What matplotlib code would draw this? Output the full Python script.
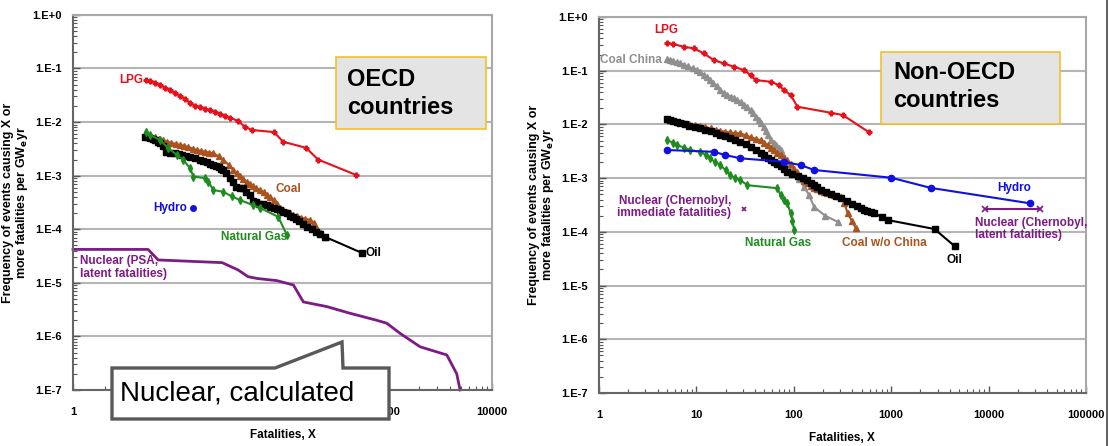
import matplotlib

matplotlib.use("Agg")
import matplotlib.pyplot as plt
from matplotlib.lines import Line2D
from matplotlib.patches import Polygon, Rectangle
from matplotlib.ticker import FixedLocator, LogLocator, NullFormatter

NARROW = ["Liberation Sans Narrow", "Liberation Sans", "DejaVu Sans"]
WIDE = ["Liberation Sans", "DejaVu Sans"]

# ---- OECD panel (fatalities X, frequency per GWe-yr) ----
oecd_lpg_x = [5, 5.4, 6.1, 6.8, 7.6, 8.4, 9.4, 10.5, 11.7, 13.1, 14.6, 16.3, 18.2, 20.3,
              22.7, 25.3, 28.3, 31.5, 37.6, 43.8, 51.2, 83, 101, 168, 218, 503]
oecd_lpg_y = [0.061, 0.0586, 0.0538, 0.0493, 0.0434, 0.0398, 0.035, 0.0308, 0.027, 0.0228,
              0.02, 0.0192, 0.0176, 0.0169, 0.0155, 0.0142, 0.013, 0.012, 0.0105, 0.0081,
              0.0071, 0.0065, 0.0043, 0.0033, 0.002, 0.00103]
oecd_gas_x = [5, 5.4, 6.8, 8.1, 9.8, 11.3, 13.1, 14.1, 18.2, 19.6, 21.8, 27.2, 32.7, 39.3,
              52.6, 61, 91, 110]
oecd_gas_y = [0.0066, 0.0058, 0.0046, 0.00325, 0.00244, 0.00197, 0.00137, 0.00096, 0.0009,
              0.00077, 0.00054, 0.0005, 0.00041, 0.00035, 0.00028, 0.00025, 0.00017, 7.8e-5]
oecd_oil_x = [4.9, 5.2, 5.4, 5.8, 6.1, 6.5, 6.8, 7.3, 7.8, 8.5, 9.4, 10.2, 11, 12, 13.1,
              14.6, 16.3, 17.5, 19, 20.5, 21.8, 23, 24.5, 26, 27.2, 29, 31.5, 33.5, 36, 39,
              42, 45, 49, 52, 56, 60, 65, 71, 76, 82, 88, 95, 102, 110, 118, 126, 135, 145,
              157, 170, 190, 210, 230, 255, 574]
oecd_oil_y = [0.0053, 0.0052, 0.0051, 0.0048, 0.0046, 0.0043, 0.0041, 0.0036, 0.0028,
              0.0027, 0.00265, 0.0025, 0.0024, 0.0023, 0.00226, 0.0021, 0.00197, 0.0019,
              0.00178, 0.00168, 0.00158, 0.0015, 0.00142, 0.00135, 0.00128, 0.0011, 0.0009,
              0.00075, 0.00062, 0.0006, 0.00059, 0.0005, 0.00044, 0.00033, 0.00032, 0.0003,
              0.00029, 0.00028, 0.00026, 0.00025, 0.00024, 0.00023, 0.00021, 0.0002,
              0.00018, 0.00017, 0.000155, 0.00014, 0.000125, 0.000112, 0.0001, 9e-5, 8e-5,
              7.2e-5, 3.6e-5]
oecd_coal_x = [4.9, 5.4, 6, 6.6, 7.2, 7.9, 8.7, 9.6, 10.5, 11.5, 12.6, 13.9, 15.2, 16.5, 18,
               19.8, 21.8, 24.5, 27.2, 30.5, 33.9, 36.5, 39, 42, 45.5, 48.5, 52, 56, 61, 66,
               71, 76, 82, 88, 95, 102, 110, 118, 127, 138, 150, 165, 183, 200, 215, 235, 260]
oecd_coal_y = [0.006, 0.0056, 0.0052, 0.0049, 0.0046, 0.0043, 0.0041, 0.0039, 0.00374,
               0.0036, 0.0034, 0.0032, 0.003, 0.0029, 0.0028, 0.0027, 0.00262, 0.0023,
               0.00197, 0.0016, 0.00128, 0.0011, 0.00098, 0.00088, 0.00077, 0.0007, 0.00064,
               0.00058, 0.00054, 0.00049, 0.00044, 0.0004, 0.00035, 0.0003, 0.00025,
               0.00023, 0.00021, 0.0002, 0.000185, 0.000175, 0.000165, 0.000157, 0.000149,
               0.00013, 0.0001, 8.5e-5, 7.3e-5]
oecd_hydro_x = [14]
oecd_hydro_y = [2.5e-4]
oecd_nuc_x = [1, 5.2, 6.5, 26.5, 37.6, 46.9, 58, 88, 127, 158, 264, 441, 792, 988, 1324,
              2056, 3700, 4600, 4950]
oecd_nuc_y = [4.2e-5, 4.2e-5, 2.67e-5, 2.38e-5, 1.74e-5, 1.3e-5, 1.2e-5, 1.1e-5, 9.1e-6,
              4.4e-6, 3.6e-6, 2.7e-6, 2.0e-6, 1.76e-6, 1.14e-6, 6.4e-7, 4.5e-7, 2.0e-7, 1.0e-7]

# ---- Non-OECD panel ----
non_lpg_x = [5, 5.8, 7.4, 9.4, 11.9, 15.1, 19.1, 24.2, 30.8, 36, 40.6, 58, 70.5, 79, 93,
             109, 240, 318, 597]
non_lpg_y = [0.332, 0.314, 0.28, 0.261, 0.211, 0.158, 0.137, 0.119, 0.103, 0.083, 0.067,
             0.0624, 0.0542, 0.0437, 0.0353, 0.0214, 0.0165, 0.015, 0.0071]
non_china_x = [5, 5.4, 5.8, 6.3, 6.8, 7.5, 8.3, 9.2, 10.2, 11, 12, 13, 13.9, 15, 16.3, 17.7,
               19.1, 20.8, 22.5, 24.3, 26.3, 28.5, 31, 33.5, 36, 38.5, 41, 43.5, 45.7, 49,
               52, 55, 58, 62, 66, 70, 73.5, 80, 86, 93, 101, 114, 128, 144, 162, 210, 282]
non_china_y = [0.163, 0.156, 0.15, 0.143, 0.137, 0.128, 0.12, 0.111, 0.103, 0.093, 0.083,
               0.075, 0.067, 0.059, 0.051, 0.044, 0.038, 0.035, 0.033, 0.031, 0.0285,
               0.026, 0.023, 0.0207, 0.0185, 0.016, 0.014, 0.012, 0.0105, 0.009, 0.0075,
               0.0063, 0.0051, 0.0046, 0.0042, 0.0037, 0.00334, 0.0025, 0.00189, 0.0016,
               0.00132, 0.00095, 0.00069, 0.00048, 0.00029, 0.0002, 0.000154]
non_oil_x = [5, 5.4, 5.8, 6.3, 6.8, 7.6, 8.5, 9.6, 11, 12.4, 14, 15.8, 17.7, 19.8, 22, 25,
             28.4, 32, 36, 40.5, 45.7, 50, 54, 58, 62.7, 68, 74, 80, 86, 95, 110, 124, 138,
             150, 160, 175, 190, 215, 240, 270, 305, 350, 400, 445, 491, 530, 570, 620, 673,
             800, 925, 2790, 4500]
non_oil_y = [0.0126, 0.012, 0.0115, 0.011, 0.0105, 0.01, 0.0095, 0.009, 0.00846, 0.0079,
             0.0074, 0.0068, 0.00635, 0.006, 0.0056, 0.0052, 0.00476, 0.0043, 0.0038,
             0.0033, 0.0029, 0.0027, 0.0024, 0.0022, 0.00202, 0.00182, 0.00165, 0.00148,
             0.00132, 0.0012, 0.0011, 0.001, 0.00092, 0.00083, 0.00075, 0.00068, 0.0006,
             0.00055, 0.0005, 0.00046, 0.00042, 0.00038, 0.00033, 0.0003, 0.000274,
             0.00026, 0.00025, 0.00023, 0.000221, 0.00019, 0.000166, 0.000113, 5.4e-5]
non_coal_x = [5, 5.7, 6.5, 7.5, 8.5, 9.7, 11, 12.4, 14, 15.8, 17.7, 19.8, 22, 25, 28.4, 32,
              36, 40.5, 45.7, 50, 54, 58, 62.7, 68, 74, 80, 86, 93, 100, 108, 118, 128, 140,
              150, 162, 175, 190, 205, 222, 240, 260, 282, 305, 330, 358, 395, 436]
non_coal_y = [0.0126, 0.0119, 0.0112, 0.0107, 0.0102, 0.0097, 0.0093, 0.0089, 0.0085,
              0.008, 0.0076, 0.0073, 0.0071, 0.0069, 0.00683, 0.0063, 0.0058, 0.0054,
              0.0051, 0.0046, 0.0041, 0.0037, 0.00334, 0.003, 0.0027, 0.0024, 0.00217,
              0.0018, 0.0015, 0.0013, 0.00106, 0.0009, 0.0008, 0.00072, 0.00065, 0.00062,
              0.00058, 0.00055, 0.00052, 0.0005, 0.00048, 0.00046, 0.00045, 0.00035,
              0.000221, 0.00016, 0.000116]
non_gas_x = [5, 5.7, 6.3, 7.5, 8.7, 11, 12.5, 13.9, 15.5, 17.7, 20, 22.4, 25, 28.4, 33.3, 68,
             73.5, 80, 86, 93, 97, 101]
non_gas_y = [0.0051, 0.0046, 0.00413, 0.0037, 0.00334, 0.0031, 0.0027, 0.00234, 0.002,
             0.00175, 0.0014, 0.00114, 0.001, 0.00092, 0.00074, 0.00065, 0.00048, 0.0004,
             0.00034, 0.00022, 0.00016, 0.000108]
non_hydro_x = [5, 15.1, 19.9, 28.4, 79.4, 118, 162, 1000, 2540, 26700]
non_hydro_y = [0.00334, 0.0031, 0.00269, 0.00234, 0.00202, 0.00175, 0.00142, 0.00102,
               0.00066, 0.00034]
non_chern_imm_x = [31]
non_chern_imm_y = [2.66e-4]
non_chern_lat_x = [9160, 33800]
non_chern_lat_y = [2.66e-4, 2.66e-4]

y_ticks = [1e0, 1e-1, 1e-2, 1e-3, 1e-4, 1e-5, 1e-6, 1e-7]
y_labels = ["1.E+0", "1.E-1", "1.E-2", "1.E-3", "1.E-4", "1.E-5", "1.E-6", "1.E-7"]
oecd_x_ticks = [1, 10, 100, 1000, 10000]
non_x_ticks = [1, 10, 100, 1000, 10000, 100000]

RED = "#e8101a"
BROWN = "#a9531e"
BLACK = "#000000"
GREEN = "#1f8c1f"
BLUE = "#1010e0"
PURPLE = "#7d1a85"
GREY = "#8f8f8f"


def style_axes(ax, xmax, xticks):
    ax.set_xscale("log")
    ax.set_yscale("log")
    ax.set_xlim(1, xmax)
    ax.set_ylim(1e-7, 1)
    ax.yaxis.set_major_locator(FixedLocator(y_ticks))
    ax.set_yticklabels(y_labels)
    ax.yaxis.set_minor_locator(LogLocator(base=10, subs=range(2, 10), numticks=20))
    ax.yaxis.set_minor_formatter(NullFormatter())
    ax.xaxis.set_major_locator(FixedLocator(xticks))
    ax.set_xticklabels([str(t) for t in xticks])
    ax.xaxis.set_minor_locator(LogLocator(base=10, subs=range(2, 10), numticks=20))
    ax.xaxis.set_minor_formatter(NullFormatter())
    ax.tick_params(which="major", direction="in", length=5, width=1, color="#555555",
                   labelsize=8)
    ax.tick_params(which="minor", direction="in", length=3, width=0.8, color="#555555")
    ax.tick_params(axis="x", pad=12)
    ax.tick_params(axis="y", pad=8)
    for lab in ax.get_xticklabels() + ax.get_yticklabels():
        lab.set_fontfamily(NARROW)
        lab.set_fontweight("bold")
    ax.grid(axis="y", which="major", color="#b5b5b5", lw=1.5)
    ax.set_axisbelow(True)
    for side in ["left", "bottom"]:
        ax.spines[side].set_color("#666666")
        ax.spines[side].set_linewidth(1.5)
    for side in ["top", "right"]:
        ax.spines[side].set_color("#a8a8a8")
        ax.spines[side].set_linewidth(1.5)
    ax.set_ylabel("Frequency of events causing X or\nmore fatalities per GW$_\\mathbf{e}$yr",
                  fontsize=9, fontweight="bold", family=WIDE, linespacing=0.95, labelpad=2)
    ax.set_xlabel("Fatalities, X", fontsize=8.5, fontweight="bold", family=NARROW,
                  labelpad=9)


def label(ax, x, y, s, color, ha="left"):
    ax.text(x, y, s, color=color, ha=ha, va="center", fontsize=8.5, fontweight="bold",
            family=NARROW, linespacing=1.1)


def region_box(ax, x0, y0, x1, y1, tx, ty, s):
    ax.add_patch(Rectangle((x0, y0), x1 - x0, y1 - y0, transform=ax.transAxes,
                           facecolor="#e4e4e4", edgecolor="#f2c12e", lw=1.2, zorder=4))
    ax.text(tx, ty, s, transform=ax.transAxes, ha="left", va="center", fontsize=17,
            fontweight="bold", family=WIDE, linespacing=1.25, zorder=5)


fig = plt.figure(figsize=(11.1, 4.46), dpi=100)

# ---- left: OECD ----
ax1 = fig.add_axes([0.0658, 0.1256, 0.3775, 0.841])
style_axes(ax1, 1e4, oecd_x_ticks)
ax1.plot(oecd_lpg_x, oecd_lpg_y, color=RED, lw=1.5, marker="P", ms=3.5)
ax1.plot(oecd_coal_x, oecd_coal_y, color=BROWN, lw=1.5, marker="^", ms=4.5)
ax1.plot(oecd_oil_x, oecd_oil_y, color=BLACK, lw=1.5, marker="s", ms=4.5)
ax1.plot(oecd_gas_x, oecd_gas_y, color=GREEN, lw=1.5, marker="d", ms=4)
ax1.plot(oecd_hydro_x, oecd_hydro_y, color=BLUE, ls="none", marker="o", ms=4)
ax1.plot(oecd_nuc_x, oecd_nuc_y, color=PURPLE, lw=2, clip_on=False)

label(ax1, 4.66, 0.061, "LPG", RED, ha="right")
label(ax1, 85, 5.65e-4, "Coal", BROWN)
label(ax1, 12.2, 2.5e-4, "Hydro", BLUE, ha="right")
label(ax1, 53.5, 7.2e-5, "Natural Gas", GREEN, ha="center")
label(ax1, 613, 3.6e-5, "Oil", BLACK)
label(ax1, 1.17, 1.9e-5, "Nuclear (PSA,\nlatent fatalities)", PURPLE)
region_box(ax1, 0.628, 0.696, 0.986, 0.888, 0.654, 0.791, "OECD\ncountries")

# ---- right: Non-OECD ----
ax2 = fig.add_axes([0.5396, 0.1188, 0.4387, 0.843])
style_axes(ax2, 1e5, non_x_ticks)
ax2.plot(non_lpg_x, non_lpg_y, color=RED, lw=1.5, marker="P", ms=3.5)
ax2.plot(non_china_x, non_china_y, color=GREY, lw=1.5, marker="^", ms=4.5)
ax2.plot(non_coal_x, non_coal_y, color=BROWN, lw=1.5, marker="^", ms=4.5)
ax2.plot(non_oil_x, non_oil_y, color=BLACK, lw=1.5, marker="s", ms=4.5)
ax2.plot(non_gas_x, non_gas_y, color=GREEN, lw=1.5, marker="d", ms=4)
ax2.plot(non_hydro_x, non_hydro_y, color=BLUE, lw=1.5, marker="o", ms=4.5)
ax2.plot(non_chern_imm_x, non_chern_imm_y, color=PURPLE, ls="none", marker="x", ms=3.5,
         mew=1.2)
ax2.plot(non_chern_lat_x, non_chern_lat_y, color=PURPLE, lw=1.5, marker="x", ms=4, mew=1.2)

label(ax2, 4.9, 0.573, "LPG", RED, ha="center")
label(ax2, 4.46, 0.158, "Coal China", GREY, ha="right")
label(ax2, 22.9, 2.9e-4, "Nuclear (Chernobyl,\nimmediate fatalities)", PURPLE, ha="right")
label(ax2, 68.4, 6.2e-5, "Natural Gas", GREEN, ha="center")
label(ax2, 847, 6.2e-5, "Coal w/o China", BROWN, ha="center")
label(ax2, 4460, 3.0e-5, "Oil", BLACK, ha="center")
label(ax2, 18500, 6.5e-4, "Hydro", BLUE, ha="center")
label(ax2, 7180, 1.13e-4, "Nuclear (Chernobyl,\nlatent fatalities)", PURPLE)
region_box(ax2, 0.580, 0.715, 0.947, 0.908, 0.604, 0.815, "Non-OECD\ncountries")

# ---- callout over the left panel ----
W, H = 1110, 446
callout_px = [(112, 368), (275, 368), (342, 342), (343, 368), (389, 368), (389, 419),
              (112, 419)]
fig.add_artist(Polygon([(x / W, 1 - y / H) for x, y in callout_px], closed=True,
                       transform=fig.transFigure, facecolor="white", edgecolor="#595959",
                       lw=2.4, zorder=10))
fig.text(120 / W, 1 - 394 / H, "Nuclear, calculated", fontsize=20, family=WIDE,
         ha="left", va="center", zorder=11)

# thin frame line at the right edge of the slide
fig.add_artist(Line2D([1107 / W, 1107 / W], [0, 1], transform=fig.transFigure,
                      color="#444444", lw=1.2))

fig.savefig("out.png", dpi=100)
